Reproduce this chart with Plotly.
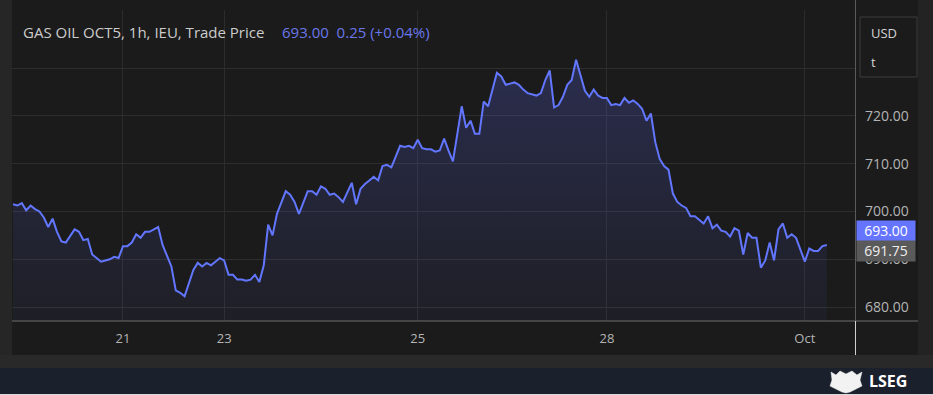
import plotly.graph_objects as go

# ---------------- data (hourly bars, trading-time index) ----------------
bars = [0, 1, 2, 3, 4, 5, 6, 7, 8, 9, 10, 11, 12, 13, 14, 15, 16, 17, 18, 19,
        20, 21, 22, 23, 24, 25, 26, 27, 28, 29, 30, 31, 32, 33, 34, 36, 37, 38, 39, 41,
        42, 43, 44, 45, 46, 47, 48, 49, 50, 51, 52, 53, 54, 55, 56, 57, 58, 59, 60, 62,
        63, 64, 65, 66, 67, 68, 69, 70, 71, 72, 73, 74, 75, 77, 78, 79, 80, 81, 82, 83,
        84, 85, 86, 87, 88, 89, 90, 91, 92, 93, 94, 95, 96, 97, 98, 99, 100, 102, 103, 104,
        105, 106, 107, 108, 110, 111, 112, 113, 114, 115, 116, 117, 119, 120, 121, 122, 123, 124, 125, 126,
        127, 128, 129, 130, 131, 132, 133, 134, 135, 136, 137, 138, 139, 140, 141, 142, 143, 144, 145, 146,
        147, 148, 149, 150, 151, 152, 153, 154, 155, 156, 157, 158, 159, 160, 161, 162, 163, 164, 165, 166,
        167, 168, 169, 170, 171, 172, 173, 174, 175, 176, 177, 178, 180, 181, 182, 183, 184, 185]

prices = [701.50, 701.25, 701.75, 700.25, 701.25, 700.50, 700.00, 698.75, 696.75, 698.50,
          695.75, 693.75, 693.50, 694.75, 696.25, 695.75, 694.00, 694.25, 691.00, 690.25,
          689.50, 689.75, 690.00, 690.50, 690.25, 692.75, 692.75, 693.50, 695.25, 694.50,
          695.75, 695.75, 696.25, 696.75, 693.00, 688.50, 683.50, 683.00, 682.25, 687.75,
          689.25, 688.50, 689.25, 688.75, 689.50, 690.25, 689.75, 686.75, 686.75, 685.75,
          685.75, 685.50, 685.75, 686.75, 685.25, 688.75, 697.25, 695.00, 699.50, 704.25,
          703.50, 702.00, 699.50, 702.00, 704.25, 704.25, 703.50, 705.25, 704.75, 703.50,
          703.75, 703.00, 702.00, 706.00, 701.50, 704.75, 705.75, 706.50, 707.25, 706.50,
          709.50, 709.75, 709.25, 711.50, 713.75, 713.50, 713.75, 713.25, 715.00, 713.25,
          713.00, 713.00, 712.50, 712.75, 715.25, 712.75, 710.50, 722.00, 717.50, 719.00,
          716.25, 716.25, 723.00, 722.00, 729.00, 728.25, 726.50, 726.75, 727.00, 726.50,
          725.50, 724.75, 724.25, 724.75, 727.50, 729.50, 721.75, 722.25, 724.00, 726.50,
          727.50, 731.75, 728.50, 725.25, 724.00, 725.50, 724.25, 723.75, 723.75, 722.25,
          722.50, 722.25, 723.75, 722.75, 723.25, 722.50, 721.50, 719.00, 720.50, 714.50,
          711.00, 709.50, 708.75, 703.75, 702.00, 701.25, 700.75, 699.00, 699.00, 698.25,
          697.50, 699.00, 696.50, 697.25, 696.00, 695.75, 694.75, 696.50, 696.00, 691.00,
          695.50, 694.50, 694.50, 688.25, 689.75, 693.50, 689.75, 696.25, 697.50, 694.50,
          695.25, 694.50, 689.50, 692.25, 691.75, 691.75, 692.75, 693.00]

day_ticks = [25, 48, 92, 135, 180]
day_labels = ["21", "23", "25", "28", "Oct"]

y_ticks = [680, 690, 700, 710, 720, 730]
y_labels = ["680.00", "690.00", "700.00", "710.00", "720.00", ""]

title_text = "GAS OIL OCT5, 1h, IEU, Trade Price"
last_price = 693.00
ref_price = 691.75
change = 0.25
change_pct = 0.04

# ---------------- styling helpers (pixel -> paper) ----------------
PL, PR, PT, PB = 12, 855, 10, 321
def px(x):
    return (x - PL) / (PR - PL)
def py(y):
    return (PB - y) / (PB - PT)

BG = "#1b1b1b"
LINE = "#6276ff"
FONT = "Open Sans"

fig = go.Figure()
fig.add_trace(go.Scatter(
    x=bars, y=prices, mode="lines",
    line=dict(color=LINE, width=2),
    fill="tozeroy",
    fillgradient=dict(type="vertical",
                      colorscale=[[0, "rgba(80,90,200,0.06)"], [1, "rgba(90,100,230,0.26)"]],
                      start=677, stop=732),
    hoverinfo="skip", showlegend=False,
))

shapes = []
def rect(x0, y0, x1, y1, color, layer="below"):
    shapes.append(dict(type="rect", xref="paper", yref="paper",
                       x0=px(x0), x1=px(x1), y0=py(y1), y1=py(y0),
                       fillcolor=color, line=dict(width=0), layer=layer))

rect(0, 0, 12, 395, "#262626")           # left strip
rect(918, 0, 933, 395, "#232323")        # right strip
rect(0, 355, 933, 368, "#292929")        # grey band
rect(0, 368, 933, 394, "#1b202d")        # navy footer
rect(0, 394, 933, 395, "#d9d9d9", "above")
# axis lines
shapes.append(dict(type="line", xref="paper", yref="paper", x0=px(12), x1=px(918),
                   y0=py(321), y1=py(321), line=dict(color="#6e6e6e", width=1), layer="above"))
shapes.append(dict(type="line", xref="paper", yref="paper", x0=px(855.5), x1=px(855.5),
                   y0=py(0), y1=py(321), line=dict(color="#5a5a5a", width=1), layer="above"))
shapes.append(dict(type="line", xref="paper", yref="paper", x0=px(855.5), x1=px(855.5),
                   y0=py(321), y1=py(355), line=dict(color="#d0d0d0", width=1), layer="above"))
# currency box
shapes.append(dict(type="rect", xref="paper", yref="paper", x0=px(860), x1=px(917),
                   y0=py(77), y1=py(17), line=dict(color="#3c3c3c", width=1),
                   fillcolor=BG, layer="above"))
# logo crest (rough silhouette)
crest = [(831, 372), (836, 375), (840, 371), (846, 374), (852, 371), (857, 375), (862, 372),
         (860, 380), (862, 386), (856, 389), (850, 392), (846, 393), (842, 392), (836, 389),
         (830, 386), (832, 380)]
path = "M " + " L ".join(f"{px(a):.5f},{py(b):.5f}" for a, b in crest) + " Z"
shapes.append(dict(type="path", xref="paper", yref="paper", path=path,
                   fillcolor="#f2f2f2", line=dict(color="#f2f2f2", width=0.5), layer="above"))

annotations = [
    dict(xref="paper", yref="paper", x=px(21), y=py(32), xanchor="left", yanchor="middle",
         text=title_text, showarrow=False, font=dict(family=FONT, size=15, color="#cccccc")),
    dict(xref="paper", yref="paper", x=px(280), y=py(32), xanchor="left", yanchor="middle",
         text=f"{last_price:.2f}&nbsp;&nbsp;{change:.2f} (+{change_pct:.2f}%)", showarrow=False,
         font=dict(family=FONT, size=15, color="#6a77ea")),
    dict(xref="paper", yref="paper", x=px(869), y=py(33), xanchor="left", yanchor="middle",
         text="USD", showarrow=False, font=dict(family=FONT, size=13, color="#d4d4d4")),
    dict(xref="paper", yref="paper", x=px(869), y=py(62), xanchor="left", yanchor="middle",
         text="t", showarrow=False, font=dict(family=FONT, size=13, color="#d4d4d4")),
    dict(xref="paper", yref="y", x=px(856), y=ref_price, xanchor="left", yanchor="middle",
         text=f"{ref_price:.2f}", showarrow=False, bgcolor="#5a5a5a", width=54, height=17,
         borderpad=2, font=dict(family=FONT, size=14, color="#eeeeee")),
    dict(xref="paper", yref="y", x=px(856), y=last_price, yshift=14, xanchor="left", yanchor="middle",
         text=f"{last_price:.2f}", showarrow=False, bgcolor="#6675ff", width=54, height=15,
         borderpad=2, font=dict(family=FONT, size=14, color="#ffffff")),
    dict(xref="paper", yref="paper", x=px(867), y=py(381), xanchor="left", yanchor="middle",
         text="<b>LSEG</b>", showarrow=False, font=dict(family=FONT, size=16, color="#ffffff")),
]

fig.update_layout(
    width=933, height=395,
    margin=dict(l=PL, r=933 - PR, t=PT, b=395 - PB, pad=0),
    paper_bgcolor=BG, plot_bgcolor=BG,
    shapes=shapes, annotations=annotations,
    xaxis=dict(range=[-0.23, 191.4], tickmode="array", tickvals=day_ticks, ticktext=day_labels,
               showgrid=True, gridcolor="#2c2c2c", gridwidth=1, zeroline=False, showline=False,
               ticks="", ticklabelstandoff=8,
               tickfont=dict(family=FONT, size=13, color="#b4b4b4"), fixedrange=True),
    yaxis=dict(range=[677.09, 742.15], side="right", tickmode="array", tickvals=y_ticks,
               ticktext=y_labels, showgrid=True, gridcolor="#2e2e2e", gridwidth=1,
               zeroline=False, showline=False, ticks="", ticklabelstandoff=9,
               tickfont=dict(family=FONT, size=14, color="#b4b4b4"), fixedrange=True),
)

fig.write_html("out.html", config={"displayModeBar": False},
               post_script="document.body.style.margin='0px';document.body.style.overflow='hidden';")
